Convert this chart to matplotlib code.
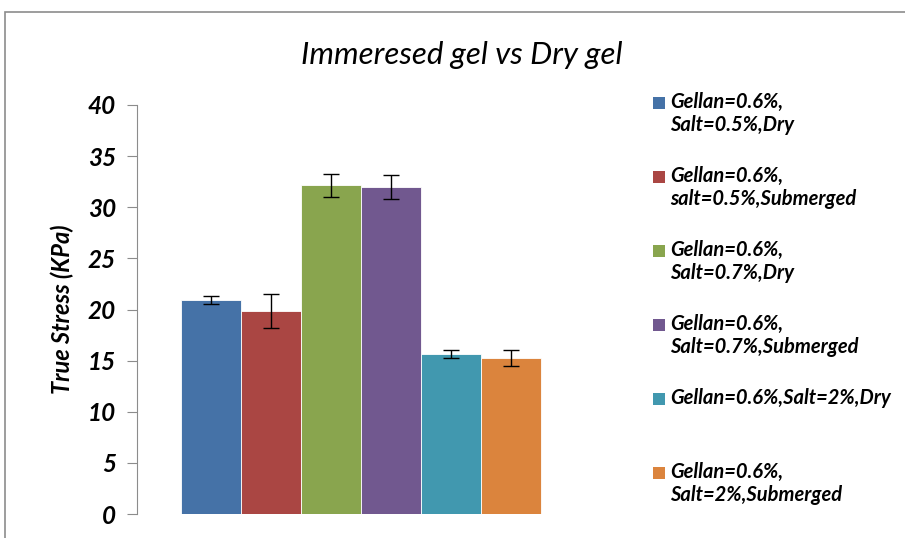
import numpy as np
import matplotlib.pyplot as plt
from matplotlib.patches import Rectangle

# Values
labels = ["Gellan=0.6%,\nSalt=0.5%,Dry",
          "Gellan=0.6%,\nsalt=0.5%,Submerged",
          "Gellan=0.6%,\nSalt=0.7%,Dry",
          "Gellan=0.6%,\nSalt=0.7%,Submerged",
          "Gellan=0.6%,Salt=2%,Dry",
          "Gellan=0.6%,\nSalt=2%,Submerged"]
stress = [20.9, 19.85, 32.15, 32.0, 15.65, 15.25]
errors = [0.4, 1.65, 1.1, 1.2, 0.35, 0.8]
colors = ["#4572A7", "#AA4643", "#89A54E", "#71588F", "#4198AF", "#DB843D"]
yticks = [0, 5, 10, 15, 20, 25, 30, 35, 40]

W, H = 905, 538
fig = plt.figure(figsize=(W / 100, H / 100), dpi=100)
font = "Lato"

# outer chart border
fig.patches.append(Rectangle((5 / W, -0.1), 1.2, 1 - 12 / H + 0.1,
                             transform=fig.transFigure, fill=False,
                             edgecolor="#8c8c8c", linewidth=1.2))

ax = fig.add_axes([137 / W, 24 / H, 448 / W, 409 / H])
x = np.arange(len(stress))
ax.bar(x, stress, width=1.0, color=colors, edgecolor="#ffffff", linewidth=0.6)
ax.errorbar(x, stress, yerr=errors, fmt="none", ecolor="black",
            elinewidth=1.0, capsize=6, capthick=1.0)

ax.set_xlim(-1.23, 6.23)
ax.set_ylim(0, 40)
ax.set_yticks(yticks)
ax.set_xticks([])
for s in ["top", "right", "bottom"]:
    ax.spines[s].set_visible(False)
ax.spines["left"].set_color("#8c8c8c")
ax.tick_params(axis="y", direction="out", length=7, color="#8c8c8c", pad=8)
for t in ax.get_yticklabels():
    t.set_fontfamily(font)
    t.set_fontweight("bold")
    t.set_fontstyle("italic")
    t.set_fontsize(17.5)

ax.set_ylabel("True Stress (KPa)", fontfamily=font, fontweight="bold",
              fontstyle="italic", fontsize=17, labelpad=10)

fig.text(462 / W, 1 - 55 / H, "Immeresed gel vs Dry gel", ha="center",
         va="center", fontfamily=font, fontstyle="italic", fontsize=22.5)

# legend drawn by hand so squares sit beside the first line
for i, (lab, c) in enumerate(zip(labels, colors)):
    yc = 103 + 74 * i
    fig.patches.append(Rectangle((653 / W, 1 - (yc + 6) / H), 12 / W, 12 / H,
                                 transform=fig.transFigure, facecolor=c,
                                 edgecolor="none"))
    fig.text(670 / W, 1 - (yc - 11) / H, lab, ha="left", va="top",
             fontfamily=font, fontweight="bold", fontstyle="italic",
             fontsize=14.5, linespacing=1.2)

fig.savefig("out.png", dpi=100)
